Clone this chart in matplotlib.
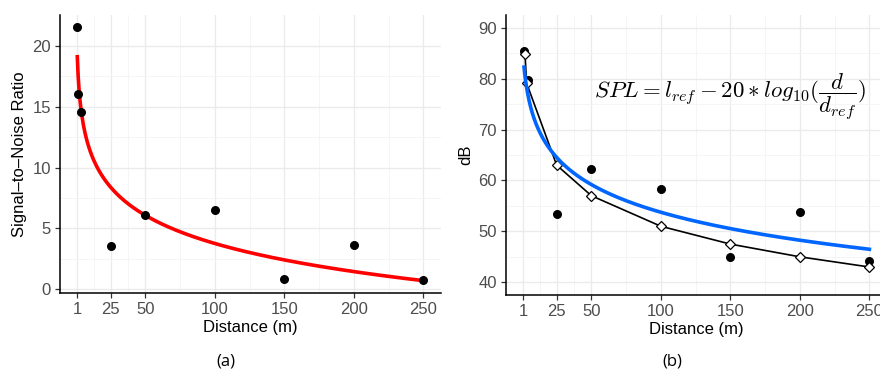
import matplotlib
matplotlib.use("Agg")
import matplotlib.pyplot as plt
import numpy as np

# (a) signal-to-noise ratio against distance
snr_dist = [1, 1.7, 3.7, 25, 50, 100, 150, 200, 250]
snr_vals = [21.5, 16.07, 14.58, 3.58, 6.1, 6.55, 0.87, 3.64, 0.77]
snr_fit = (19.1, 3.33)            # y = a - b*ln(d)

# (b) measured sound level and model
db_dist = [1.7, 4.6, 25, 50, 100, 150, 200, 250]
db_vals = [85.5, 79.75, 53.5, 62.2, 58.3, 44.9, 53.8, 44.2]
model_dist = [2.2, 3.4, 25, 50, 100, 150, 200, 250]
model_vals = [84.85, 79.1, 63.0, 57.0, 51.0, 47.5, 45.0, 43.0]
db_fit = (90.7, 8.0, 1.37)        # y = a - b*ln(d + c)

xticks = [1, 25, 50, 100, 150, 200, 250]
xminor = [13, 37.5, 75, 125, 175, 225]

plt.rcParams["font.family"] = ["Liberation Sans", "DejaVu Sans"]
plt.rcParams["mathtext.fontset"] = "cm"

fig = plt.figure(figsize=(8.8, 3.72), dpi=100)
ax1 = fig.add_axes([60 / 880, 79 / 372, 380.7 / 880, 278.3 / 372])
ax2 = fig.add_axes([506 / 880, 77 / 372, 380.7 / 880, 280 / 372])


def style(ax, yticks, yminor):
    ax.set_xticks(xticks)
    ax.set_xticks(xminor, minor=True)
    ax.set_yticks(yticks)
    ax.set_yticks(yminor, minor=True)
    ax.grid(True, which="major", color="#ebebeb", linewidth=1.0, zorder=0)
    ax.grid(True, which="minor", color="#f4f4f4", linewidth=0.6, zorder=0)
    ax.set_axisbelow(True)
    for s in ["top", "right"]:
        ax.spines[s].set_visible(False)
    for s in ["left", "bottom"]:
        ax.spines[s].set_linewidth(1.1)
        ax.spines[s].set_color("black")
    ax.tick_params(which="major", length=3.5, width=0.9, color="#333333",
                   labelcolor="#4d4d4d", labelsize=12, pad=3)
    ax.tick_params(which="minor", length=0)
    ax.set_xlim(-11.45, 262.45)
    ax.set_xlabel("Distance (m)", fontsize=12, labelpad=2)


# panel (a)
style(ax1, [0, 5, 10, 15, 20], [2.5, 7.5, 12.5, 17.5])
ax1.set_ylim(-0.3, 22.55)
d = np.linspace(1, 250, 400)
ax1.plot(d, snr_fit[0] - snr_fit[1] * np.log(d), color="red", linewidth=2.6, zorder=3)
ax1.scatter(snr_dist, snr_vals, s=30, color="black", zorder=4)
ax1.set_ylabel("Signal\u2013to\u2013Noise Ratio", fontsize=12, labelpad=4)

# panel (b)
style(ax2, [40, 50, 60, 70, 80, 90], [45, 55, 65, 75, 85])
ax2.set_ylim(37.5, 92.5)
d2 = np.linspace(1.5, 250, 400)
ax2.scatter(db_dist, db_vals, s=30, color="black", zorder=3)
ax2.plot(model_dist, model_vals, color="black", linewidth=1.2, marker="D",
         markersize=5.5, markerfacecolor="white", markeredgecolor="black",
         markeredgewidth=0.9, zorder=4)
ax2.plot(d2, db_fit[0] - db_fit[1] * np.log(d2 + db_fit[2]), color="#0066ff",
         linewidth=2.6, zorder=5)
ax2.set_ylabel("dB", fontsize=12, labelpad=4)
ax2.text(594 / 880, 1 - 97 / 372,
         r"$SPL = l_{ref} - 20 * log_{10}(\dfrac{d}{d_{ref}})$",
         transform=fig.transFigure, fontsize=16.5, va="center", ha="left", zorder=6)

fig.text(225.7 / 880, 1 - 361.7 / 372, "(a)", fontsize=12, ha="center", va="center",
         family=["Open Sans", "DejaVu Sans"])
fig.text(672 / 880, 1 - 361.7 / 372, "(b)", fontsize=12, ha="center", va="center",
         family=["Open Sans", "DejaVu Sans"])

fig.savefig("out.png", dpi=100)
